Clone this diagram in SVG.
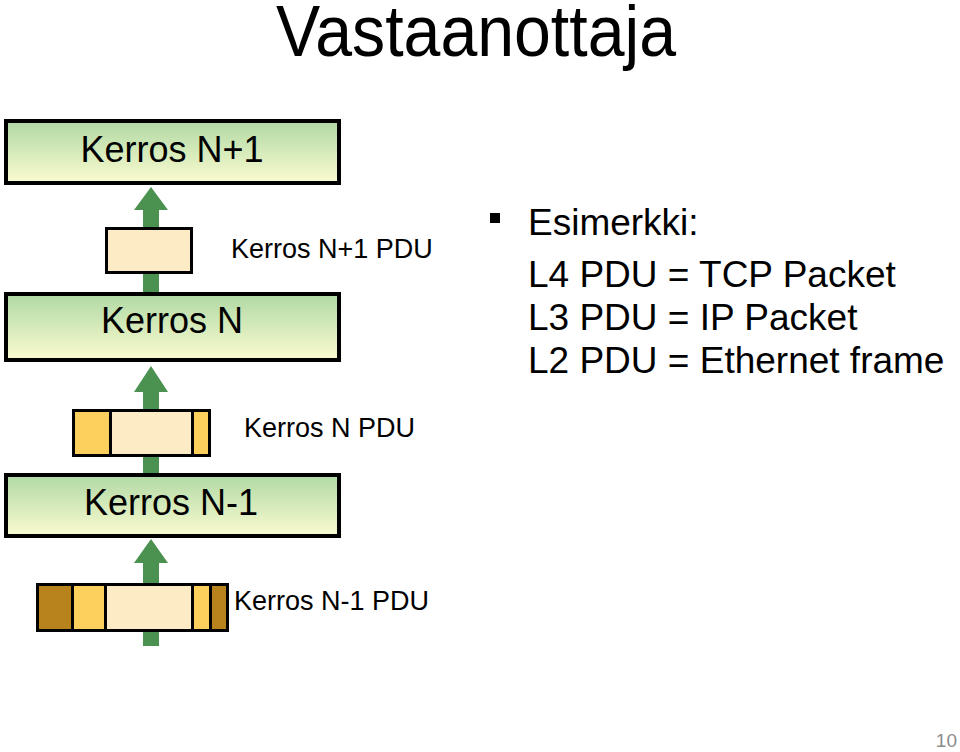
<svg xmlns="http://www.w3.org/2000/svg" width="960" height="752" viewBox="0 0 960 752">
<defs>
<linearGradient id="g" x1="0" y1="0" x2="0" y2="1">
<stop offset="0" stop-color="#b0d9a4"/>
<stop offset="1" stop-color="#fbfbd0"/>
</linearGradient>
<style>
.t{font-family:"Liberation Sans",Arial,sans-serif;fill:#000}
.layer{fill:url(#g);stroke:#000;stroke-width:4}
.pdu{stroke:#000;stroke-width:3}
.arrow{fill:#4b9150}
.lt{fill:#fdebc6}
.md{fill:#fdcf5c}
.dk{fill:#b8821c}
</style>
</defs>
<rect width="960" height="752" fill="#fff"/>
<text class="t" x="276" y="56" font-size="72" textLength="400" lengthAdjust="spacingAndGlyphs">Vastaanottaja</text>
<g id="connectors">
<polygon class="arrow" points="151,187 168,210 159,210 159,292 143,292 143,210 134,210"/>
<polygon class="arrow" points="151,366 168,392 159,392 159,473 143,473 143,392 134,392"/>
<polygon class="arrow" points="151,539 168,563 159,563 159,646 143,646 143,563 134,563"/>
</g>
<g id="layerN1">
<rect class="layer" x="6" y="121" width="333" height="62"/>
<text class="t" x="172" y="162" font-size="36" text-anchor="middle">Kerros N+1</text>
</g>
<g id="layerN">
<rect class="layer" x="6" y="294" width="333" height="66"/>
<text class="t" x="172" y="333" font-size="36" text-anchor="middle">Kerros N</text>
</g>
<g id="layerNm1">
<rect class="layer" x="6" y="475" width="333" height="61"/>
<text class="t" x="171" y="515" font-size="36" text-anchor="middle">Kerros N-1</text>
</g>
<g id="pduN1">
<rect class="pdu lt" x="106.5" y="228.5" width="85" height="44"/>
<text class="t" x="231" y="258" font-size="27">Kerros N+1 PDU</text>
</g>
<g id="pduN">
<rect class="pdu md" x="73.5" y="410.5" width="37" height="45"/>
<rect class="pdu lt" x="110.5" y="410.5" width="82" height="45"/>
<rect class="pdu md" x="192.5" y="410.5" width="17" height="45"/>
<text class="t" x="244" y="437" font-size="27">Kerros N PDU</text>
</g>
<g id="pduNm1">
<rect class="pdu dk" x="37.5" y="584.5" width="35" height="46"/>
<rect class="pdu md" x="72.5" y="584.5" width="33" height="46"/>
<rect class="pdu lt" x="105.5" y="584.5" width="87" height="46"/>
<rect class="pdu md" x="192.5" y="584.5" width="18" height="46"/>
<rect class="pdu dk" x="210.5" y="584.5" width="17" height="46"/>
<text class="t" x="234" y="610" font-size="27">Kerros N-1 PDU</text>
</g>
<g id="examples">
<rect x="490" y="213" width="10" height="10" fill="#000"/>
<text class="t" x="528" y="235" font-size="37">Esimerkki:</text>
<text class="t" x="528" y="287" font-size="37">L4 PDU = TCP Packet</text>
<text class="t" x="528" y="330" font-size="37">L3 PDU = IP Packet</text>
<text class="t" x="528" y="373" font-size="37">L2 PDU = Ethernet frame</text>
</g>
<text class="t" x="957" y="747" font-size="19" text-anchor="end" style="fill:#8c8c8c">10</text>
</svg>
